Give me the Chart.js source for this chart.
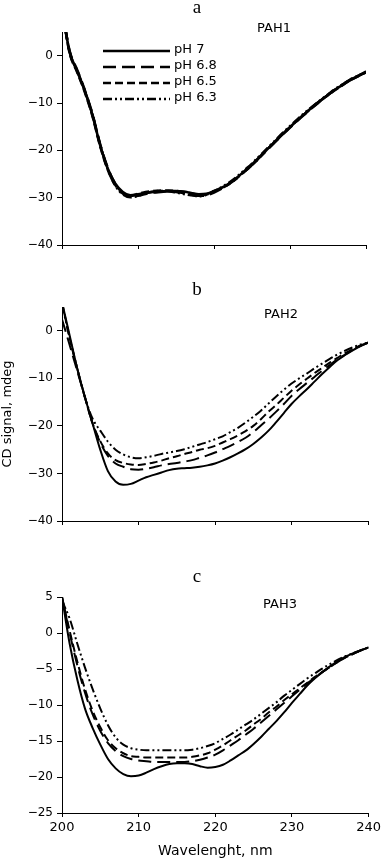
<!DOCTYPE html>
<html>
<head>
<meta charset="utf-8">
<title>CD spectra PAH1-3</title>
<script src="https://cdn.jsdelivr.net/npm/chart.js@4.4.1/dist/chart.umd.min.js"></script>
<style>
  html, body { margin: 0; padding: 0; background: #fff; }
  #wrap { position: relative; width: 384px; height: 862px; }
  .panel { position: absolute; left: 0; width: 384px; }
  canvas { display: block; }
</style>
</head>
<body>
<div id="wrap">
  <div class="panel" style="top:0;height:280px"><canvas id="chartA" width="384" height="280"></canvas></div>
  <div class="panel" style="top:280px;height:280px"><canvas id="chartB" width="384" height="280"></canvas></div>
  <div class="panel" style="top:560px;height:302px"><canvas id="chartC" width="384" height="302"></canvas></div>
</div>
<script>
// wavelength, nm (1 nm step)
const wavelengths = [200, 201, 202, 203, 204, 205, 206, 207, 208, 209, 210,
  211, 212, 213, 214, 215, 216, 217, 218, 219, 220,
  221, 222, 223, 224, 225, 226, 227, 228, 229, 230,
  231, 232, 233, 234, 235, 236, 237, 238, 239, 240];

const seriesNames = ['pH 7', 'pH 6.8', 'pH 6.5', 'pH 6.3'];
const xTicks = [200, 210, 220, 230, 240];
const yTicksAB = [-40, -30, -20, -10, 0];
const yTicksC = [-25, -20, -15, -10, -5, 0, 5];

// PAH1 - CD signal, mdeg
const pah1_pH7 = [10, 0.8, -3.3, -7.5, -12.5, -18.8, -23.8, -27, -28.8, -29.5, -29.3,
  -29.0, -28.8, -28.7, -28.6, -28.6, -28.7, -29.0, -29.3, -29.2, -28.6,
  -27.9, -27.0, -25.8, -24.4, -23.0, -21.4, -19.8, -18.2, -16.6, -15.1,
  -13.6, -12.2, -10.8, -9.5, -8.3, -7.1, -6.1, -5.1, -4.3, -3.5];
const pah1_pH68 = [10, 1.0, -3.0, -7.3, -12.3, -18.6, -23.6, -27.1, -29.0, -29.8, -29.6,
  -29.2, -28.9, -28.8, -28.7, -28.8, -29.0, -29.3, -29.6, -29.5, -28.9,
  -28.1, -27.1, -25.9, -24.5, -23.1, -21.5, -19.9, -18.3, -16.7, -15.2,
  -13.7, -12.3, -10.9, -9.6, -8.3, -7.1, -6.0, -5.0, -4.2, -3.4];
const pah1_pH65 = [10, 0.6, -3.5, -7.7, -12.7, -19.0, -24.0, -27.3, -29.1, -29.6, -29.2,
  -28.8, -28.6, -28.5, -28.5, -28.6, -28.8, -29.1, -29.4, -29.3, -28.7,
  -28.0, -27.1, -25.9, -24.5, -23.1, -21.5, -19.8, -18.2, -16.6, -15.1,
  -13.6, -12.2, -10.8, -9.5, -8.3, -7.2, -6.1, -5.1, -4.3, -3.5];
const pah1_pH63 = [10, 0.8, -3.2, -7.4, -12.4, -18.7, -23.9, -27.4, -29.3, -29.9, -29.6,
  -29.1, -28.7, -28.6, -28.7, -28.9, -29.2, -29.5, -29.7, -29.4, -28.7,
  -27.8, -26.8, -25.6, -24.2, -22.8, -21.2, -19.6, -18.0, -16.4, -14.9,
  -13.4, -12.0, -10.7, -9.4, -8.2, -7.0, -6.0, -5.0, -4.2, -3.4];

// PAH2
const pah2_pH7 = [6, -1, -8, -14, -19.5, -25, -29.5, -31.7, -32.4, -32.2, -31.5,
  -30.8, -30.3, -29.8, -29.3, -29.0, -28.9, -28.8, -28.6, -28.3, -27.9,
  -27.3, -26.6, -25.8, -24.9, -23.8, -22.5, -21.0, -19.2, -17.3, -15.4,
  -13.8, -12.3, -10.7, -9.1, -7.6, -6.2, -5.1, -4.1, -3.2, -2.5];
const pah2_pH68 = [2.4, -3, -8.5, -14, -19.5, -23.5, -26.3, -27.9, -28.6, -29.1, -29.2,
  -29.0, -28.7, -28.3, -28.0, -27.8, -27.5, -27.2, -26.7, -26.2, -25.6,
  -24.9, -24.2, -23.4, -22.5, -21.3, -19.9, -18.5, -17.0, -15.4, -13.7,
  -12.3, -11.0, -9.7, -8.4, -7.2, -6.0, -5.0, -4.0, -3.2, -2.5];
const pah2_pH65 = [6, -1.5, -8, -14, -19.5, -23.2, -25.8, -27.2, -27.8, -28.1, -28.2,
  -28.0, -27.7, -27.3, -26.8, -26.4, -25.9, -25.5, -25.0, -24.7, -24.2,
  -23.5, -22.8, -22.0, -21.1, -20.0, -18.6, -17.0, -15.6, -14.1, -12.6,
  -11.3, -10.1, -8.9, -7.8, -6.7, -5.7, -4.7, -3.9, -3.1, -2.5];
const pah2_pH63 = [5.5, -1.5, -8, -14, -18.5, -21, -23.3, -25, -26, -26.6, -26.8,
  -26.6, -26.3, -25.9, -25.6, -25.3, -24.9, -24.4, -23.9, -23.4, -22.8,
  -22.2, -21.3, -20.4, -19.3, -18.1, -16.8, -15.3, -13.8, -12.4, -11.1,
  -10.0, -9.0, -7.9, -6.9, -5.9, -5.0, -4.2, -3.5, -2.9, -2.5];

// PAH3
const pah3_pH7 = [5, -1.5, -6.5, -10.5, -13.2, -15.5, -17.5, -18.8, -19.6, -19.9, -19.8,
  -19.4, -18.9, -18.5, -18.2, -18.1, -18.1, -18.2, -18.5, -18.7, -18.6,
  -18.3, -17.7, -17.0, -16.3, -15.4, -14.4, -13.3, -12.2, -11.0, -9.7,
  -8.5, -7.3, -6.3, -5.4, -4.6, -3.9, -3.3, -2.8, -2.4, -2.0];
const pah3_pH68 = [5, 0, -4.5, -8.3, -11.3, -13.6, -15.3, -16.4, -17.1, -17.5, -17.7,
  -17.8, -17.9, -17.9, -17.9, -17.9, -17.9, -17.8, -17.6, -17.3, -16.9,
  -16.3, -15.6, -14.9, -14.1, -13.3, -12.4, -11.5, -10.6, -9.7, -8.8,
  -7.9, -7.0, -6.2, -5.4, -4.7, -4.0, -3.4, -2.9, -2.4, -2.0];
const pah3_pH65 = [5, 0.3, -4, -7.8, -10.8, -13.1, -14.9, -16.0, -16.7, -17.1, -17.2,
  -17.3, -17.3, -17.3, -17.3, -17.3, -17.3, -17.2, -17.0, -16.7, -16.2,
  -15.6, -14.9, -14.2, -13.5, -12.7, -11.9, -11.0, -10.2, -9.3, -8.5,
  -7.7, -6.9, -6.1, -5.4, -4.7, -4.0, -3.4, -2.9, -2.4, -2.0];
const pah3_pH63 = [4.5, 2, -1.5, -4.8, -7.8, -10.5, -12.8, -14.5, -15.5, -16.0, -16.2,
  -16.3, -16.3, -16.3, -16.3, -16.3, -16.3, -16.2, -16.0, -15.7, -15.3,
  -14.7, -14.1, -13.4, -12.7, -12.0, -11.2, -10.4, -9.6, -8.7, -7.9,
  -7.1, -6.3, -5.6, -4.9, -4.3, -3.7, -3.2, -2.8, -2.4, -2.0];

Chart.defaults.font.family = '"DejaVu Sans", sans-serif';
Chart.defaults.color = '#000';
Chart.defaults.animation = false;

const lineDashes = [[], [13, 6], [8, 4], [9, 3, 2, 3, 2, 3]];
const minus = v => String(v).replace('-', '\u2212');

// panel letter (a, b, c) and protein name
const panelTextPlugin = {
    id: 'panelText',
    afterDraw(chart, args, opts) {
        const ctx = chart.ctx;
        ctx.save();
        ctx.fillStyle = '#000';
        ctx.textBaseline = 'alphabetic';
        ctx.textAlign = 'center';
        ctx.font = '19px "Liberation Serif", serif';
        ctx.fillText(opts.letter, 197, opts.letterY);
        ctx.textAlign = 'left';
        ctx.font = '13px "DejaVu Sans", sans-serif';
        ctx.fillText(opts.name, opts.nameX, opts.nameY);
        ctx.restore();
    }
};

// legend inside panel a
const phLegendPlugin = {
    id: 'phLegend',
    afterDatasetsDraw(chart, args, opts) {
        if (!opts.show) return;
        const ctx = chart.ctx;
        ctx.save();
        ctx.font = '13px "DejaVu Sans", sans-serif';
        ctx.fillStyle = '#000';
        ctx.textBaseline = 'middle';
        chart.data.datasets.forEach((ds, i) => {
            const y = opts.top + i * opts.gap;
            ctx.beginPath();
            ctx.setLineDash(ds.borderDash || []);
            ctx.lineWidth = ds.borderWidth;
            ctx.strokeStyle = ds.borderColor;
            ctx.moveTo(opts.x1, y);
            ctx.lineTo(opts.x2, y);
            ctx.stroke();
            ctx.setLineDash([]);
            ctx.fillText(ds.label, opts.textX, y - 1);
        });
        ctx.restore();
    }
};

function makeDatasets(seriesList, width) {
    return seriesList.map((vals, i) => ({
        label: seriesNames[i],
        data: wavelengths.map((w, k) => ({ x: w, y: vals[k] })),
        borderColor: '#000',
        borderWidth: width,
        borderDash: lineDashes[i],
        borderCapStyle: 'butt',
        pointRadius: 0,
        cubicInterpolationMode: 'monotone',
        fill: false
    }));
}

function makePanel(id, cfg) {
    const canvas = document.getElementById(id);
    return new Chart(canvas, {
        type: 'line',
        data: { datasets: makeDatasets(cfg.series, cfg.lineWidth) },
        plugins: [panelTextPlugin, phLegendPlugin],
        options: {
            responsive: false,
            devicePixelRatio: 1,
            layout: { padding: { top: cfg.top, right: cfg.right, left: 0, bottom: 0 } },
            scales: {
                x: {
                    type: 'linear',
                    min: 200,
                    max: 240,
                    afterBuildTicks: s => { s.ticks = xTicks.map(v => ({ value: v })); },
                    afterFit: s => { s.height = cfg.xHeight; },
                    border: { display: true, color: '#000', width: 1 },
                    grid: { drawOnChartArea: false, color: '#000', tickLength: 4 },
                    ticks: {
                        display: cfg.xLabels,
                        padding: 3,
                        maxRotation: 0,
                        font: { size: 13 },
                        color: '#000'
                    },
                    title: {
                        display: cfg.xLabels,
                        text: 'Wavelenght, nm',
                        font: { size: 14 },
                        padding: { top: 4, bottom: 2 },
                        color: '#000'
                    }
                },
                y: {
                    min: cfg.yMin,
                    max: 5,
                    afterBuildTicks: s => { s.ticks = cfg.yTicks.map(v => ({ value: v })); },
                    afterFit: s => { s.width = 62; },
                    border: { display: true, color: '#000', width: 1 },
                    grid: { drawOnChartArea: false, color: '#000', tickLength: 5 },
                    ticks: {
                        padding: 4,
                        font: { size: 12 },
                        color: '#000',
                        callback: v => minus(v)
                    },
                    title: {
                        display: cfg.yTitle,
                        text: 'CD signal, mdeg',
                        font: { size: 13 },
                        padding: 0,
                        color: '#000'
                    }
                }
            },
            plugins: {
                legend: { display: false },
                tooltip: { enabled: false },
                panelText: cfg.text,
                phLegend: cfg.legend
            }
        }
    });
}

makePanel('chartA', {
    series: [pah1_pH7, pah1_pH68, pah1_pH65, pah1_pH63],
    lineWidth: 2.6,
    top: 32, right: 18, xHeight: 35,
    yMin: -40, yTicks: yTicksAB,
    xLabels: false, yTitle: false,
    text: { letter: 'a', letterY: 13, name: 'PAH1', nameX: 257, nameY: 32 },
    legend: { show: true, x1: 103, x2: 170, textX: 174, top: 51, gap: 16 }
});

makePanel('chartB', {
    series: [pah2_pH7, pah2_pH68, pah2_pH65, pah2_pH63],
    lineWidth: 2,
    top: 27, right: 16, xHeight: 39,
    yMin: -40, yTicks: yTicksAB,
    xLabels: false, yTitle: true,
    text: { letter: 'b', letterY: 15, name: 'PAH2', nameX: 264, nameY: 38 },
    legend: { show: false }
});

makePanel('chartC', {
    series: [pah3_pH7, pah3_pH68, pah3_pH65, pah3_pH63],
    lineWidth: 2,
    top: 37, right: 13, xHeight: 49,
    yMin: -25, yTicks: yTicksC,
    xLabels: true, yTitle: false,
    text: { letter: 'c', letterY: 22, name: 'PAH3', nameX: 263, nameY: 48 },
    legend: { show: false }
});
</script>
</body>
</html>
